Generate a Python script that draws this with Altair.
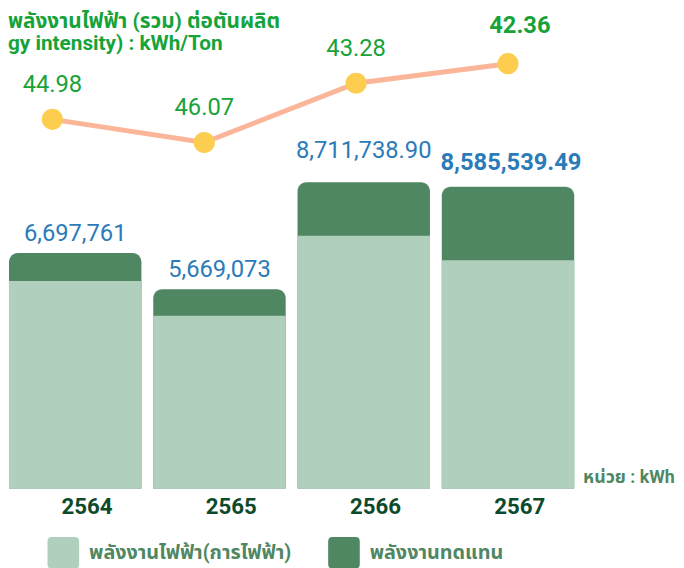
import altair as alt
import pandas as pd

years = ["2564", "2565", "2566", "2567"]
grid_kwh = [5_902_000, 4_918_000, 7_194_000, 6_492_000]
renewable_kwh = [795_761, 751_073, 1_517_738.90, 2_093_539.49]
total_kwh = [6_697_761, 5_669_073, 8_711_738.90, 8_585_539.49]
total_labels = ["6,697,761", "5,669,073", "8,711,738.90", "8,585,539.49"]
intensity = [44.98, 46.07, 43.28, 42.36]
intensity_labels = ["44.98", "46.07", "43.28", "42.36"]

GRID = "พลังงานไฟฟ้า(การไฟฟ้า)"
REN = "พลังงานทดแทน"
TITLE1 = "พลังงานไฟฟ้า (รวม) ต่อตันผลิต"
TITLE2 = "gy intensity) : kWh/Ton"
UNIT = "หน่วย : kWh"
FONT = "Roboto, Noto Sans Thai, Noto Sans, sans-serif"

df = pd.DataFrame({
    "year": years,
    "grid": grid_kwh,
    "renewable": renewable_kwh,
    "total": total_kwh,
    "total_label": total_labels,
    "intensity": intensity,
    "intensity_label": intensity_labels,
})
df["zero"] = 0
df["grid_type"] = GRID
df["ren_type"] = REN

W, H = 572, 483

xband = alt.X("year:N", sort=years,
              scale=alt.Scale(paddingInner=0.082, paddingOuter=0), axis=None)
yscale = alt.Scale(domain=[0, 13_573_000], nice=False, zero=True)
color = alt.Color("type:N",
                  scale=alt.Scale(domain=[GRID, REN], range=["#b0cfbc", "#4f8763"]),
                  legend=alt.Legend(title=None, orient="none", legendX=39, legendY=532,
                                    direction="horizontal",
                                    symbolType="M -0.72,-1 L 0.72,-1 Q 1,-1 1,-0.72 L 1,0.72 Q 1,1 0.72,1 L -0.72,1 Q -1,1 -1,0.72 L -1,-0.72 Q -1,-1 -0.72,-1 Z",
                                    symbolSize=1024, symbolStrokeWidth=0, symbolOpacity=1,
                                    labelFontSize=20, labelFontWeight="bold", labelColor="#4f8763",
                                    labelFont=FONT, labelOffset=10, columnPadding=37,
                                    labelLimit=400))

base = alt.Chart(df)
ybar_total = alt.Y("total:Q", scale=yscale, axis=None)

dark = base.transform_calculate(type="datum.ren_type").mark_bar(
    cornerRadiusTopLeft=9, cornerRadiusTopRight=9
).encode(
    x=xband,
    y=alt.Y("zero:Q", scale=yscale, axis=None),
    y2="total:Q",
    color=color,
)
light = base.transform_calculate(type="datum.grid_type").mark_bar(cornerRadius=0).encode(
    x=xband,
    y=alt.Y("zero:Q", scale=yscale, axis=None),
    y2="grid:Q",
    color=color,
)
bar_labels = base.transform_filter("datum.year == '2564' || datum.year == '2565'").mark_text(
    fontSize=24, color="#2b7bb9", dy=-19, baseline="middle", font=FONT
).encode(x=xband, y=ybar_total, text="total_label:N")
bar_labels_c = base.transform_filter("datum.year == '2566'").mark_text(
    fontSize=24, color="#2b7bb9", dy=-32, baseline="middle", font=FONT
).encode(x=xband, y=ybar_total, text="total_label:N")
bar_labels_b = base.transform_filter("datum.year == '2567'").mark_text(
    fontSize=24, color="#2b7bb9", dy=-24, dx=3, baseline="middle", font=FONT, fontWeight="bold"
).encode(x=xband, y=ybar_total, text="total_label:N")

year_labels = base.mark_text(
    fontSize=22.5, fontWeight="bold", color="#0d4a2b", font=FONT, dy=19, dx=12,
    baseline="middle"
).encode(x=xband, y=alt.Y("zero:Q", scale=yscale, axis=None), text="year:N")

unit = base.transform_filter("datum.year == '2567'").mark_text(
    text=UNIT, fontSize=18, fontWeight="bold", color="#4f8763", font=FONT,
    align="left", baseline="middle"
).encode(x=alt.value(581), y=alt.value(472))

title1 = base.transform_filter("datum.year == '2567'").mark_text(
    text=TITLE1, fontSize=21, fontWeight="bold",
    color="#16a33a", font=FONT, align="left", baseline="middle"
).encode(x=alt.value(-1), y=alt.value(11))
title2 = base.transform_filter("datum.year == '2567'").mark_text(
    text=TITLE2, fontSize=21, fontWeight="bold",
    color="#16a33a", font=FONT, align="left", baseline="middle"
).encode(x=alt.value(-1), y=alt.value(33))

bars = alt.layer(dark, light, bar_labels, bar_labels_c, bar_labels_b, year_labels, unit,
                 title1, title2)

xpoint = alt.X("year:N", sort=years,
               scale=alt.Scale(type="point", padding=0.361, align=0.396), axis=None)
yline = alt.Y("intensity:Q", scale=alt.Scale(domain=[39.894, 62.359], reverse=True,
                                              zero=False, nice=False), axis=None)
line = base.mark_line(color="#fbb598", strokeWidth=5).encode(x=xpoint, y=yline)
pts = base.mark_point(filled=True, size=460, color="#fdcd4f", opacity=1).encode(x=xpoint, y=yline)
line_labels = base.transform_filter("datum.year != '2567'").mark_text(
    fontSize=24, color="#17a23a", dy=-35, baseline="middle", font=FONT
).encode(x=xpoint, y=yline, text="intensity_label:N")
line_labels_b = base.transform_filter("datum.year == '2567'").mark_text(
    fontSize=24, color="#17a23a", dy=-38, dx=12, baseline="middle", font=FONT, fontWeight="bold"
).encode(x=xpoint, y=yline, text="intensity_label:N")

lines = alt.layer(line, pts, line_labels, line_labels_b)

chart = alt.layer(bars, lines).resolve_scale(x="independent", y="independent").properties(
    width=W, height=H,
    autosize=alt.AutoSizeParams(type="none"),
    padding={"left": 1, "top": 0, "right": 103, "bottom": 77},
).configure_view(stroke=None)

chart.save("out.html", embed_options={"renderer": "svg", "actions": False})
